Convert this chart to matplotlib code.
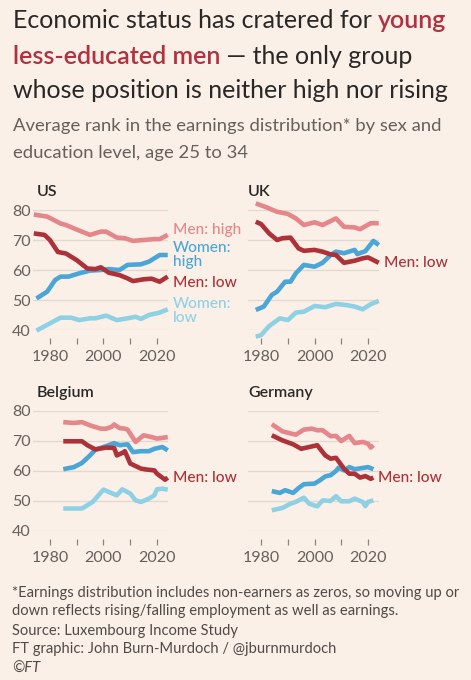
import matplotlib
matplotlib.use("Agg")
import matplotlib.pyplot as plt

plt.rcParams['font.family'] = ['Lato', 'DejaVu Sans']

# --- data (year, average rank) ---
us_years_mh = [1974, 1979, 1984, 1986, 1990, 1995, 1999, 2001, 2005, 2008, 2011, 2015, 2019, 2021, 2024]
us_men_high = [78.5, 77.8, 75.5, 75.0, 73.5, 71.7, 72.8, 72.8, 70.8, 70.6, 69.7, 70.0, 70.3, 70.3, 71.7]
us_years_ml = [1974, 1978, 1980, 1983, 1986, 1990, 1994, 1997, 1999, 2002, 2006, 2009, 2011, 2015, 2018, 2021, 2024]
us_men_low = [72.2, 71.7, 70.0, 66.0, 65.5, 63.3, 60.5, 60.3, 60.9, 59.1, 58.3, 57.2, 56.3, 56.9, 57.1, 56.1, 57.8]
us_years_wh = [1975, 1979, 1982, 1984, 1987, 1991, 1995, 1999, 2002, 2006, 2009, 2014, 2017, 2021, 2024]
us_women_high = [50.5, 52.8, 56.7, 57.8, 57.8, 58.9, 59.8, 60.0, 60.3, 60.0, 61.7, 61.9, 62.8, 65.0, 65.0]
us_years_wl = [1975, 1980, 1984, 1988, 1991, 1995, 1997, 2001, 2005, 2009, 2012, 2014, 2017, 2021, 2024]
us_women_low = [39.8, 42.2, 44.1, 44.1, 43.3, 43.9, 43.9, 44.8, 43.3, 43.9, 44.4, 43.7, 45.0, 45.8, 46.9]

uk_years_mh = [1978, 1982, 1986, 1990, 1993, 1996, 2000, 2003, 2006, 2008, 2011, 2015, 2017, 2021, 2024]
uk_men_high = [82.2, 80.9, 79.4, 78.7, 77.2, 75.0, 75.9, 75.0, 76.3, 77.2, 74.4, 74.2, 73.6, 75.6, 75.6]
uk_years_ml = [1978, 1980, 1983, 1986, 1988, 1991, 1994, 1996, 2000, 2003, 2006, 2008, 2011, 2015, 2018, 2020, 2022, 2024]
uk_men_low = [76.1, 75.3, 72.2, 70.0, 70.6, 70.8, 67.2, 66.4, 66.7, 66.1, 65.2, 65.0, 62.4, 63.1, 63.9, 64.2, 63.3, 62.4]
uk_years_wh = [1978, 1981, 1984, 1986, 1989, 1991, 1993, 1996, 2000, 2003, 2006, 2008, 2011, 2015, 2016, 2019, 2022, 2024]
uk_women_high = [46.7, 47.8, 51.7, 52.8, 56.1, 56.1, 58.9, 61.7, 61.1, 62.4, 65.0, 66.1, 65.6, 66.7, 65.3, 66.3, 69.7, 68.3]
uk_years_wl = [1978, 1980, 1983, 1987, 1990, 1993, 1996, 2000, 2004, 2008, 2012, 2015, 2018, 2021, 2024]
uk_women_low = [37.8, 38.3, 41.3, 43.9, 43.3, 45.8, 46.1, 48.0, 47.6, 48.7, 48.3, 47.8, 46.9, 48.6, 49.7]

be_years_mh = [1985, 1989, 1992, 1995, 1999, 2001, 2003, 2004, 2006, 2008, 2009, 2012, 2015, 2018, 2020, 2024]
be_men_high = [76.3, 76.0, 76.3, 75.2, 74.1, 74.1, 74.7, 75.5, 74.3, 74.1, 73.8, 69.7, 71.9, 71.3, 70.8, 71.3]
be_years_ml = [1985, 1992, 1994, 1997, 2001, 2004, 2005, 2007, 2008, 2010, 2014, 2016, 2019, 2020, 2023, 2024]
be_men_low = [69.9, 69.9, 68.6, 67.2, 67.8, 67.7, 65.2, 66.0, 66.6, 62.5, 60.8, 60.5, 60.2, 59.1, 57.1, 57.8]
be_years_wh = [1985, 1989, 1992, 1995, 1997, 2001, 2004, 2006, 2009, 2011, 2014, 2017, 2019, 2022, 2024]
be_women_high = [60.6, 61.3, 62.7, 65.2, 67.1, 68.3, 69.3, 68.6, 68.9, 66.3, 66.6, 66.6, 67.4, 68.0, 66.9]
be_years_wl = [1985, 1992, 1996, 2000, 2002, 2005, 2007, 2010, 2012, 2014, 2017, 2019, 2020, 2022, 2024]
be_women_low = [47.5, 47.5, 49.7, 53.8, 53.0, 51.9, 53.9, 52.5, 50.2, 49.7, 50.8, 51.9, 53.9, 54.1, 53.8]

de_years_mh = [1984, 1988, 1993, 1996, 1999, 2001, 2003, 2006, 2008, 2010, 2013, 2015, 2018, 2020, 2021, 2022]
de_men_high = [75.6, 73.2, 72.1, 73.8, 74.1, 73.6, 73.6, 71.6, 71.7, 70.0, 71.7, 69.3, 69.7, 69.1, 67.8, 68.6]
de_years_ml = [1984, 1988, 1992, 1995, 1998, 2001, 2004, 2006, 2008, 2011, 2013, 2015, 2017, 2019, 2021, 2022]
de_men_low = [71.9, 70.2, 68.9, 67.4, 68.0, 68.6, 65.2, 64.1, 64.4, 60.8, 59.1, 59.1, 57.8, 58.3, 57.4, 57.8]
de_years_wh = [1984, 1987, 1989, 1992, 1994, 1996, 2000, 2002, 2004, 2006, 2008, 2009, 2011, 2013, 2015, 2018, 2020, 2022]
de_women_high = [53.3, 52.7, 53.6, 52.7, 54.3, 55.6, 55.8, 56.9, 58.2, 58.6, 60.0, 61.1, 60.2, 61.3, 60.6, 61.0, 61.3, 60.6]
de_years_wl = [1984, 1988, 1991, 1993, 1996, 1998, 2001, 2003, 2006, 2008, 2010, 2013, 2015, 2018, 2019, 2020, 2022]
de_women_low = [46.9, 47.7, 49.1, 49.7, 51.1, 49.1, 48.2, 50.2, 50.0, 51.6, 49.9, 49.9, 50.8, 49.7, 48.3, 49.7, 50.2]

countries = ["US", "UK", "Belgium", "Germany"]
y_ticks = [40, 50, 60, 70, 80]
x_ticks = [1980, 1990, 2000, 2010, 2020]
x_ticklabels = ["1980", "", "2000", "", "2020"]

# colours
BG = "#fbf0e7"
C_MH = "#e4868a"
C_ML = "#ad3138"
C_WH = "#4aa6d6"
C_WL = "#8fd1e4"
DARK = "#2a2827"
GREY = "#66605c"
RED = "#b0313f"

panels = {
    "US": [(us_years_mh, us_men_high, C_MH), (us_years_wh, us_women_high, C_WH),
           (us_years_wl, us_women_low, C_WL), (us_years_ml, us_men_low, C_ML)],
    "UK": [(uk_years_mh, uk_men_high, C_MH), (uk_years_wh, uk_women_high, C_WH),
           (uk_years_wl, uk_women_low, C_WL), (uk_years_ml, uk_men_low, C_ML)],
    "Belgium": [(be_years_mh, be_men_high, C_MH), (be_years_wh, be_women_high, C_WH),
                (be_years_wl, be_women_low, C_WL), (be_years_ml, be_men_low, C_ML)],
    "Germany": [(de_years_mh, de_men_high, C_MH), (de_years_wh, de_women_high, C_WH),
                (de_years_wl, de_women_low, C_WL), (de_years_ml, de_men_low, C_ML)],
}

# end labels: (text, colour, y position in data units)
end_labels = {
    "US": [("Men: high", C_MH, 73.3), ("Women:\nhigh", C_WH, 65.0),
           ("Men: low", C_ML, 55.7), ("Women:\nlow", C_WL, 46.2)],
    "UK": [("Men: low", C_ML, 62.3)],
    "Belgium": [("Men: low", C_ML, 57.7)],
    "Germany": [("Men: low", C_ML, 57.7)],
}

W, H = 471, 680
fig = plt.figure(figsize=(W / 100, H / 100), dpi=100)
fig.patch.set_facecolor(BG)

# pixel layout of each panel's plotting area: (left, right, top(80), bottom(40), xmin)
layout = {
    "US": (33, 168, 210, 330, 1973.7),
    "UK": (248, 379, 210, 330, 1975.1),
    "Belgium": (33, 168, 411, 531, 1973.7),
    "Germany": (248, 379, 411, 531, 1975.1),
}

for name in countries:
    l, r, t, b, xmin = layout[name]
    ax = fig.add_axes([l / W, 1 - b / H, (r - l) / W, (b - t) / H])
    ax.set_facecolor("none")
    ax.set_xlim(xmin, 2024.1)
    ax.set_ylim(40, 80)
    for spine in ["top", "right", "left"]:
        ax.spines[spine].set_visible(False)
    ax.spines["bottom"].set_position(("outward", 6))
    ax.spines["bottom"].set_color("none")
    ax.set_yticks(y_ticks)
    ax.yaxis.grid(True, color="#e3d8ce", lw=0.9)
    ax.set_axisbelow(True)
    ax.set_xticks(x_ticks)
    ax.set_xticklabels(x_ticklabels)
    ax.tick_params(axis="x", length=4, width=0.9, color="#8a837e", labelsize=11.5,
                   labelcolor=GREY, pad=4.5)
    if name in ("US", "Belgium"):
        ax.tick_params(axis="y", length=0, pad=1.5, labelsize=11.5, labelcolor=GREY)
    else:
        ax.tick_params(axis="y", length=0, labelleft=False)

    for xs, ys, c in panels[name]:
        ax.plot(xs, ys, color=c, lw=3.3, solid_capstyle="butt", solid_joinstyle="round",
                clip_on=False, zorder=3)

    for text, c, yv in end_labels[name]:
        lx = 2026.0 if name != "Germany" else 2023.8
        ax.text(lx, yv, text, color=c, fontsize=11.2, va="center", ha="left",
                fontweight="medium", linespacing=1.0, clip_on=False)

    ax.text(0.03 if name in ("US", "Belgium") else 0.0, 1.12, name, transform=ax.transAxes,
            fontsize=11.5, fontweight="semibold", color=DARK, va="baseline", ha="left")

# --- title with coloured words ---
renderer = fig.canvas.get_renderer()


def draw_segments(segments, x_px, base_px, size):
    x = x_px / W
    for txt, col, wt in segments:
        t = fig.text(x, 1 - base_px / H, txt, color=col, fontsize=size, fontweight=wt,
                     va="baseline", ha="left")
        bb = t.get_window_extent(renderer=renderer)
        x = bb.x1 / W


title_size = 18.0
draw_segments([("Economic status has cratered for ", DARK, "normal"),
               ("young", RED, "semibold")], 13, 28.5, title_size)
draw_segments([("less-educated men", RED, "semibold"),
               (" \u2014 the only group", DARK, "normal")], 13, 63.5, title_size)
draw_segments([("whose position is neither high nor rising", DARK, "normal")], 13, 98.5, title_size)

fig.text(13 / W, 1 - 131.5 / H, "Average rank in the earnings distribution* by sex and",
         color=GREY, fontsize=13.3, va="baseline", ha="left")
fig.text(13 / W, 1 - 158 / H, "education level, age 25 to 34",
         color=GREY, fontsize=13.3, va="baseline", ha="left")

footer = [
    "*Earnings distribution includes non-earners as zeros, so moving up or",
    "down reflects rising/falling employment as well as earnings.",
    "Source: Luxembourg Income Study",
    "FT graphic: John Burn-Murdoch / @jburnmurdoch",
]
foot_base = [596.5, 615, 635, 653.5]
for line, yb in zip(footer, foot_base):
    fig.text(12 / W, 1 - yb / H, line, color="#4f4a47", fontsize=10.6, va="baseline", ha="left")
fig.text(12 / W, 1 - 672.5 / H, "\u00a9FT", color="#4f4a47", fontsize=10.6, style="italic",
         va="baseline", ha="left")

fig.savefig("out.png", dpi=100, facecolor=BG)
